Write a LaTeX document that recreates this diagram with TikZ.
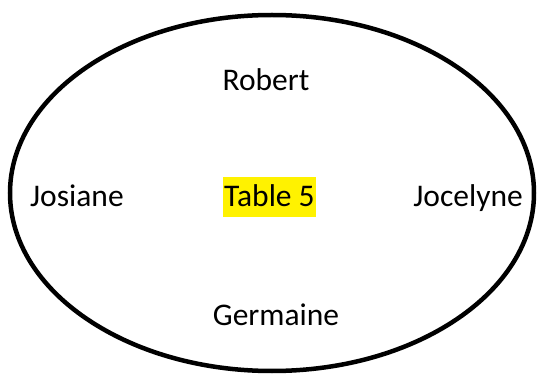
\documentclass[tikz,border=0pt]{standalone}
\usepackage{fontspec}
\setmainfont{Carlito}
\usepackage{tikz}
\usetikzlibrary{positioning}
\tikzstyle{guest} = [inner sep=0pt, font=\fontsize{31.5}{38}\selectfont]
\tikzstyle{tablename} = [guest, fill=yellow, inner xsep=1pt, inner ysep=0pt, text height=30pt, text depth=10pt]
\tikzstyle{rim} = [line width=4.5pt]

\begin{document}
\begin{tikzpicture}[x=1pt,y=1pt]
	\useasboundingbox (0,0) rectangle (539,373);
	\draw [rim] (272,180) ellipse [x radius=262, y radius=178];
	\node (table5) [tablename, anchor=base] at (269.5,166) {Table 5};
	\node (robert) [guest, anchor=base] at (266,282) {Robert};
	\node (germaine) [guest, anchor=base] at (276,48) {Germaine};
	\node (josiane) [guest, anchor=base west] at (30,167) {Josiane};
	\node (jocelyne) [guest, anchor=base east] at (523,167) {Jocelyne};
\end{tikzpicture}
\end{document}
